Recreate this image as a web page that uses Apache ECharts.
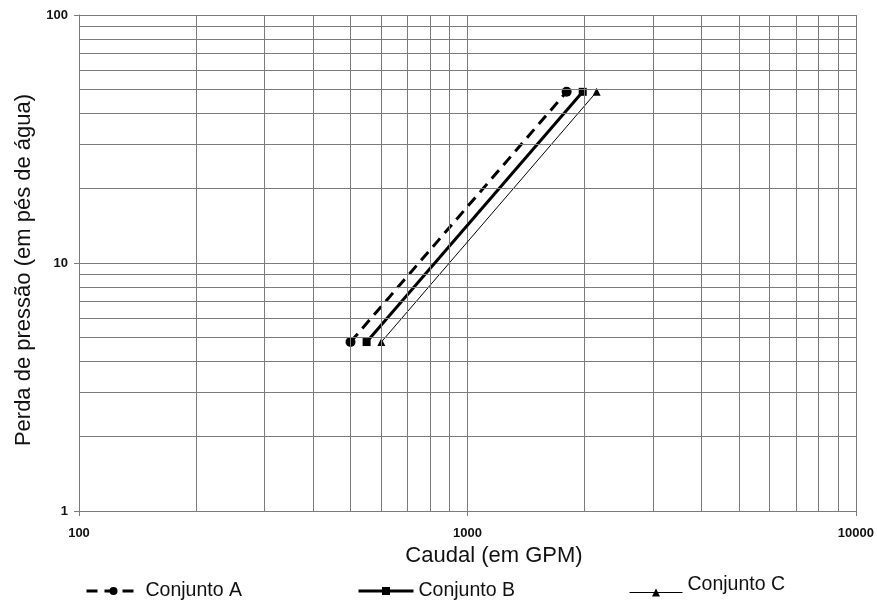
<!DOCTYPE html>
<html><head><meta charset="utf-8">
<script src="https://cdn.jsdelivr.net/npm/echarts@6/dist/echarts.min.js"></script>
<style>html,body{margin:0;padding:0;background:#fff}#c{width:877px;height:603px}</style>
</head><body><div id="c"></div>
<script>
const seriesNames = ['Conjunto A', 'Conjunto B', 'Conjunto C'];
const flowA = [500, 1800];
const lossA = [4.8, 49];
const flowB = [550, 1980];
const lossB = [4.8, 49];
const flowC = [600, 2150];
const lossC = [4.8, 49];
const xMinorGrid = [200, 300, 400, 500, 600, 700, 800, 900, 2000, 3000, 4000, 5000, 6000, 7000, 8000, 9000];
const yMinorGrid = [2, 3, 4, 5, 6, 7, 8, 9, 20, 30, 40, 50, 60, 70, 80, 90];
const xTitle = 'Caudal (em GPM)';
const yTitle = 'Perda de pressão (em pés de água)';

const zip = (a, b) => a.map((v, i) => [v, b[i]]);
const chart = echarts.init(document.getElementById('c'), null, {renderer: 'canvas'});
const gridColor = '#7a7a7a';
const font = 'Liberation Sans, Arial, sans-serif';

const legendText = {fontFamily: font, fontSize: 19.5, color: '#111'};
const legendBase = {orient: 'horizontal', itemHeight: 10, itemGap: 0, padding: 0, textStyle: legendText};

chart.setOption({
  animation: false,
  grid: {left: 79, right: 21, top: 15, bottom: 92},
  graphic: [
    {type: 'text', x: 494, y: 556, silent: true,
     style: {text: xTitle, font: '22px ' + font, fill: '#111', align: 'center', verticalAlign: 'middle'}},
    {type: 'text', x: 24, y: 270, rotation: Math.PI / 2, silent: true,
     style: {text: yTitle, font: '22px ' + font, fill: '#111', align: 'center', verticalAlign: 'middle'}}
  ],
  legend: [
    Object.assign({}, legendBase, {data: [seriesNames[0]], itemWidth: 54, left: 85, top: 581,
      lineStyle: {width: 3}}),
    Object.assign({}, legendBase, {data: [seriesNames[1]], itemWidth: 55, left: 357, top: 581,
      lineStyle: {width: 3}}),
    Object.assign({}, legendBase, {data: [seriesNames[2]], itemWidth: 53, left: 629, top: 575,
      lineStyle: {width: 1},
      formatter: n => '{c|' + n + '}',
      textStyle: Object.assign({}, legendText, {rich: {c: {fontFamily: font, fontSize: 19.5, color: '#111', padding: [0, 0, 15, 0]}}})})
  ],
  xAxis: {
    type: 'log', logBase: 10, min: 100, max: 10000,
    axisLine: {show: true, lineStyle: {color: gridColor, width: 1}},
    axisTick: {show: true, length: 5, lineStyle: {color: gridColor}},
    axisLabel: {fontFamily: font, fontSize: 13, fontWeight: 'bold', color: '#111', margin: 16,
      formatter: v => String(v)},
    splitLine: {show: true, lineStyle: {color: gridColor, width: 1}}
  },
  yAxis: {
    type: 'log', logBase: 10, min: 1, max: 100,
    axisLine: {show: true, lineStyle: {color: gridColor, width: 1}},
    axisTick: {show: true, length: 5, lineStyle: {color: gridColor}},
    axisLabel: {fontFamily: font, fontSize: 13, fontWeight: 'bold', color: '#111', margin: 11,
      formatter: v => String(v)},
    splitLine: {show: true, lineStyle: {color: gridColor, width: 1}}
  },
  series: [
    {
      name: '_grid', type: 'line', data: [], silent: true,
      markLine: {
        silent: true, symbol: 'none', label: {show: false}, animation: false,
        lineStyle: {color: gridColor, width: 1, type: 'solid'},
        emphasis: {disabled: true},
        data: xMinorGrid.map(v => ({xAxis: v})).concat(yMinorGrid.map(v => ({yAxis: v})))
      }
    },
    {
      name: seriesNames[0], type: 'line', data: zip(flowA, lossA),
      symbol: 'circle', symbolSize: 10,
      lineStyle: {color: '#000', width: 3, type: [11, 7]},
      itemStyle: {color: '#000'}
    },
    {
      name: seriesNames[1], type: 'line', data: zip(flowB, lossB),
      symbol: 'rect', symbolSize: 8,
      lineStyle: {color: '#000', width: 3, type: 'solid'},
      itemStyle: {color: '#000'}
    },
    {
      name: seriesNames[2], type: 'line', data: zip(flowC, lossC),
      symbol: 'triangle', symbolSize: 8,
      lineStyle: {color: '#000', width: 1, type: 'solid'},
      itemStyle: {color: '#000'}
    }
  ]
});
</script></body></html>
